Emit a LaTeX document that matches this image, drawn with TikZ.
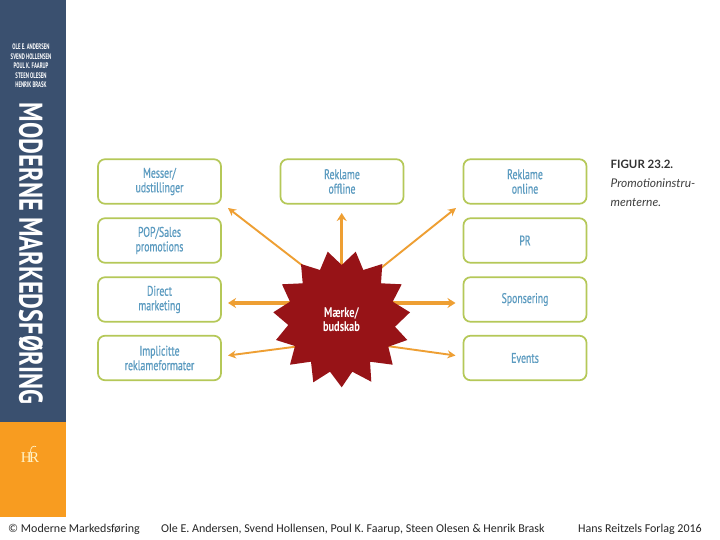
\documentclass[tikz,border=0pt]{standalone}
\usepackage{fontspec}
\setmainfont{Carlito}
\newfontfamily\narrowfont[FakeStretch=0.7,FakeBold=0.6]{PT Sans}
\newfontfamily\narrowbold[FakeStretch=0.74]{PT Sans Bold}
\newfontfamily\authorfont[FakeStretch=0.6]{PT Sans Bold}
\newfontfamily\titlefont[FakeStretch=0.74]{PT Sans Bold}
\newfontfamily\figfont{Lato}
\newfontfamily\logofont{Liberation Serif}
\definecolor{navy}{HTML}{3A506F}
\definecolor{amber}{HTML}{F89C20}
\definecolor{boxgreen}{HTML}{B5C858}
\definecolor{boxtext}{HTML}{5B9BC0}
\definecolor{arrowor}{HTML}{EE9F33}
\definecolor{starred}{HTML}{971317}
\definecolor{palecream}{HTML}{FFF3C8}
\tikzset{
 promobox/.style={draw=boxgreen,line width=1.7pt,rounded corners=7pt,fill=white,minimum width=123pt,minimum height=44.5pt,align=center,inner sep=0pt,text=boxtext,font=\narrowfont\fontsize{14}{14.5}\selectfont},
 promoarrow/.style={draw=arrowor,-{Stealth[length=8pt,width=8pt]}},
 thinarrow/.style={promoarrow,line width=1.9pt},
 thickarrow/.style={promoarrow,line width=3.4pt,-{Stealth[length=8pt,width=10pt]}},
 footer/.style={font=\fontsize{12}{14}\selectfont,text=black!85,inner sep=0pt,anchor=west},
 author/.style={font=\authorfont\fontsize{8}{9.5}\selectfont,text=white,align=center,inner sep=0pt},
}
\usetikzlibrary{arrows.meta}
\begin{document}
\begin{tikzpicture}[x=1pt,y=-1pt]
\useasboundingbox (0,0) rectangle (720,540);
\fill[white] (0,0) rectangle (720,540);
\fill[navy] (0,0) rectangle (66,422);
\fill[amber] (0,422) rectangle (66,517);
\node[author] (authors) at (31,66) {OLE E. ANDERSEN\\SVEND HOLLENSEN\\POUL K. FAARUP\\STEEN OLESEN\\HENRIK BRASK};
\node[rotate=-90,text=white,inner sep=0pt,font=\titlefont\fontsize{33}{36}\selectfont] (title) at (31,253.5) {MODERNE MARKEDSFØRING};
\node[text=palecream,inner sep=0pt,font=\logofont\fontsize{15}{15}\selectfont] (logo) at (30,458) {H\kern-2.5pt R};
\draw[palecream,line width=0.7pt] (30.5,452) .. controls (30.5,447) and (33,445.5) .. (36,446.5);
% boxes
\node[promobox] (messer) at (159.5,181.5) {Messer/\\udstillinger};
\node[promobox] (pop) at (159.5,240.5) {POP/Sales\\promotions};
\node[promobox] (direct) at (159.5,299.5) {Direct\\marketing};
\node[promobox] (impl) at (159.5,358) {Implicitte\\reklameformater};
\node[promobox] (offline) at (342,181.5) {Reklame\\offline};
\node[promobox] (online) at (525,181.5) {Reklame\\online};
\node[promobox] (pr) at (525,240.5) {PR};
\node[promobox] (spons) at (525,299.5) {Sponsering};
\node[promobox] (events) at (525,358) {Events};
% arrow ends
\coordinate (tl) at (228,208);
\coordinate (tc) at (341.7,213);
\coordinate (tr) at (456,208);
\coordinate (ml) at (228,303);
\coordinate (mr) at (455.5,303);
\coordinate (bl) at (228,355.5);
\coordinate (br) at (455.5,355.5);
\coordinate (s1) at (303,266);
\coordinate (s2) at (341.7,268);
\coordinate (s3) at (381,268);
\coordinate (s4) at (292,303);
\coordinate (s5) at (391,303);
\coordinate (s6) at (297,346.5);
\coordinate (s7) at (387,346);
\draw[thinarrow] (s1) -- (tl);
\draw[thickarrow] (s2) -- (tc);
\draw[thinarrow] (s3) -- (tr);
\draw[thickarrow] (s4) -- (ml);
\draw[thickarrow] (s5) -- (mr);
\draw[thinarrow] (s6) -- (bl);
\draw[thinarrow] (s7) -- (br);
% burst
\fill[starred] (327.7,251.7) -- (341.7,265) -- (355.7,251.7) -- (363.3,270) -- (382.3,264) -- (381,283.3) -- (401.7,284.3) -- (392.7,301.7) -- (410,312.3) -- (395,326.7) -- (407.3,340) -- (388.3,346.7) -- (392.7,364.7) -- (370,361.7) -- (371.3,381.7) -- (352.3,371.7) -- (341.7,387.3) -- (330,371.7) -- (313.3,382.3) -- (311,361.7) -- (290,364.7) -- (295,346) -- (276,340) -- (288.3,325) -- (273.3,312.3) -- (290,301.7) -- (282,284.3) -- (302.7,283.3) -- (301,264) -- (320,270) -- cycle;
\node[text=white,align=center,inner sep=0pt,font=\narrowbold\fontsize{14}{14.5}\selectfont] (brand) at (341.5,319.5) {Mærke/\\budskab};
% figure caption
\node[anchor=west,inner sep=0pt,text=black!80,font=\figfont\bfseries\fontsize{11.5}{13}\selectfont] (fig) at (610.5,164) {FIGUR 23.2.};
\node[anchor=west,inner sep=0pt,text=black!75,font=\figfont\itshape\fontsize{12}{14}\selectfont] (figcapa) at (610.5,183) {Promotioninstru-};
\node[anchor=west,inner sep=0pt,text=black!75,font=\figfont\itshape\fontsize{12}{14}\selectfont] (figcapb) at (610.5,202.5) {menterne.};
% footer
\node[footer] (f1) at (8,529) {© Moderne Markedsføring};
\node[footer] (f2) at (161,529) {Ole E. Andersen, Svend Hollensen, Poul K. Faarup, Steen Olesen \& Henrik Brask};
\node[footer] (f3) at (578,529) {Hans Reitzels Forlag 2016};
\end{tikzpicture}
\end{document}
